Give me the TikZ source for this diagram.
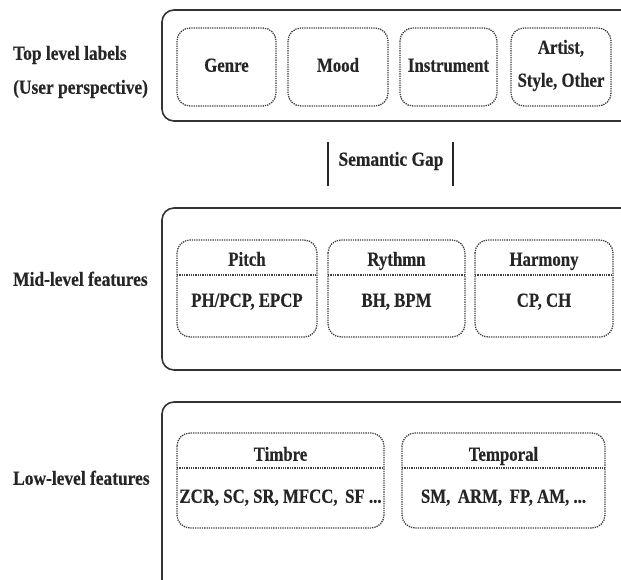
\documentclass[tikz,border=0pt]{standalone}
\usepackage{fontspec}
\setmainfont{Liberation Serif}[FakeStretch=0.84, BoldFeatures={FakeBold=0.4}]
\newfontfamily\widefont{Liberation Serif}[FakeStretch=0.87, BoldFeatures={FakeBold=0.4}]
\begin{document}
\begin{tikzpicture}[x=1pt,y=-1pt,
  lbl/.style={font=\bfseries\fontsize{20}{22}\selectfont, inner sep=0pt, text=black!85, text height=13.5pt, text depth=4pt},
  sidelbl/.style={font=\widefont\bfseries\fontsize{20}{22}\selectfont, inner sep=0pt, text=black!85, text height=13.5pt, text depth=4pt, anchor=west},
  outerbox/.style={draw=black!80, line width=1.6pt, rounded corners=12pt},
  innerbox/.style={draw=black!75, line width=1.3pt, densely dotted, rounded corners=13pt},
  divline/.style={draw=black!75, line width=1.3pt, densely dotted},
  gapbar/.style={line width=1.6pt, draw=black!85}]
\useasboundingbox (0,0) rectangle (621,579);
\clip (0,0) rectangle (621,579);
% outer boxes
\draw[outerbox] (162,10) rectangle (650,121);
\draw[outerbox] (162,208) rectangle (650,370);
\draw[outerbox] (162,402) rectangle (650,600);
% left labels
\node[sidelbl] (tl1) at (13,55) {Top level labels};
\node[sidelbl] (tl2) at (13,89) {(User perspective)};
\node[sidelbl] (ml) at (13,281) {Mid-level features};
\node[sidelbl] (ll) at (13,480) {Low-level features};
% top inner boxes
\draw[innerbox] (177,28) rectangle (276,106);
\node[lbl] (genre) at (226.5,67) {Genre};
\draw[innerbox] (288,28) rectangle (388,106);
\node[lbl] (mood) at (338,67) {Mood};
\draw[innerbox] (400,28) rectangle (497,106);
\node[lbl] (instr) at (448.5,67) {Instrument};
\draw[innerbox] (511,28) rectangle (611,106);
\node[lbl] (artist1) at (561,49) {Artist,};
\node[lbl] (artist2) at (561,82) {Style, Other};
% semantic gap
\node[sidelbl, anchor=center] (gap) at (391,161) {Semantic Gap};
\coordinate (g1a) at (328,142); \coordinate (g1b) at (328,186);
\coordinate (g2a) at (453,142); \coordinate (g2b) at (453,186);
\draw[gapbar] (g1a) -- (g1b);
\draw[gapbar] (g2a) -- (g2b);
% mid inner boxes
\draw[innerbox] (177,240) rectangle (317,337);
\draw[divline] (177,275) -- (317,275);
\node[lbl] (pitch) at (247,261) {Pitch};
\node[lbl] (pitchf) at (247,302) {PH/PCP, EPCP};
\draw[innerbox] (328,240) rectangle (465,337);
\draw[divline] (328,275) -- (465,275);
\node[lbl] (ryth) at (396.5,261) {Rythmn};
\node[lbl] (rythf) at (396.5,302) {BH, BPM};
\draw[innerbox] (475,240) rectangle (613,337);
\draw[divline] (475,275) -- (613,275);
\node[lbl] (harm) at (544,261) {Harmony};
\node[lbl] (harmf) at (544,302) {CP, CH};
% low inner boxes
\draw[innerbox] (177,433) rectangle (384,528);
\draw[divline] (177,468) -- (384,468);
\node[lbl] (timb) at (280.5,456) {Timbre};
\node[lbl] (timbf) at (280.5,498) {ZCR, SC, SR, MFCC,\, SF ...};
\draw[innerbox] (402,433) rectangle (605,528);
\draw[divline] (402,468) -- (605,468);
\node[lbl] (temp) at (503.5,456) {Temporal};
\node[lbl] (tempf) at (503.5,498) {SM,\, ARM,\, FP, AM, ...};
\end{tikzpicture}
\end{document}
